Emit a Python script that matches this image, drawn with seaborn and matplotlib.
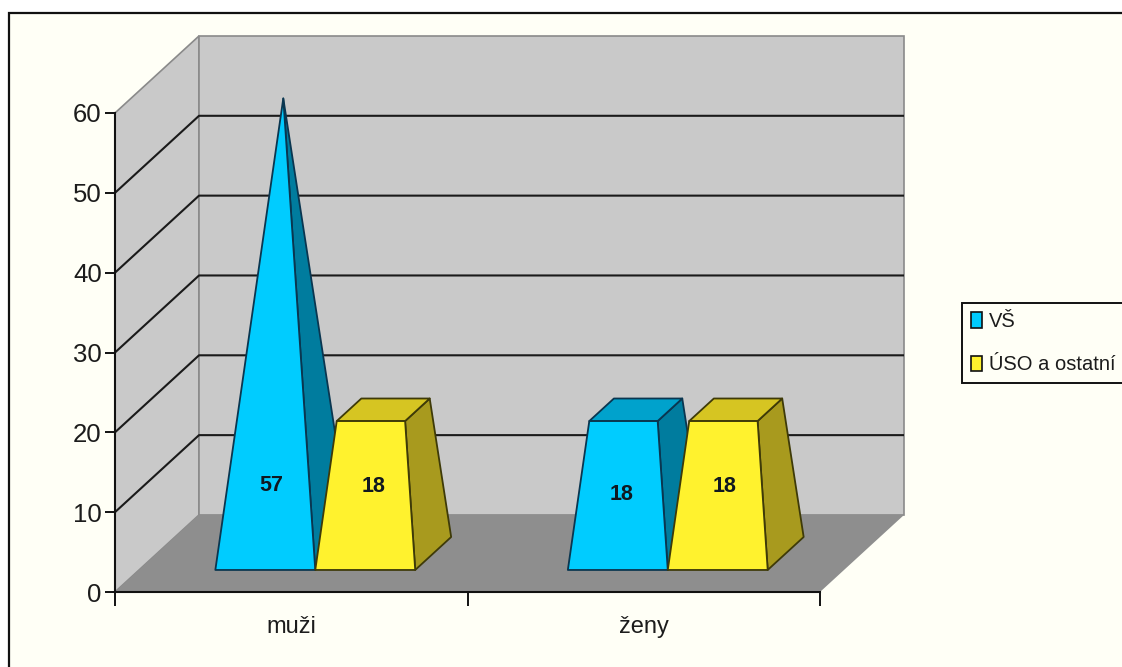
import matplotlib
matplotlib.use("Agg")
import matplotlib.pyplot as plt
from matplotlib.patches import Patch, Polygon, Rectangle
import pandas as pd
import seaborn as sns

# Values per category and education group
categories = ["muži", "ženy"]
series_names = ["VŠ", "ÚSO a ostatní"]
vs_values = [57, 18]
uso_values = [18, 18]
y_ticks = [0, 10, 20, 30, 40, 50, 60]

# Colours of the three visible faces of every solid
face_colors = {"VŠ": "#00CCFF", "ÚSO a ostatní": "#FFF22E"}
side_colors = {"VŠ": "#007C9E", "ÚSO a ostatní": "#A89A1E"}
top_colors = {"VŠ": "#00A2CC", "ÚSO a ostatní": "#D6C522"}
edge_colors = {"VŠ": "#0A3650", "ÚSO a ostatní": "#3E3A08"}
PAPER = "#FFFFF6"
WALL = "#C9C9C9"
FLOOR = "#8E8E8E"
INK = "#1C1C1C"

sns.set_theme(style="white")
plt.rcParams["font.family"] = ["Liberation Sans"]

W, H = 1122, 667
fig = plt.figure(figsize=(W / 100, H / 100), dpi=100, facecolor="white")
fig.add_artist(Rectangle((9 / W, -0.02), 1.02, 1.02 - 13 / H, transform=fig.transFigure,
                         facecolor=PAPER, edgecolor="#111111", linewidth=1.6, zorder=-5))

ax = fig.add_axes([115 / W, (H - 592) / H, 705 / W, 479 / H])
ax.set_facecolor("none")

df = pd.DataFrame({
    "pohlaví": categories * 2,
    "počet": vs_values + uso_values,
    "vzdělání": [series_names[0]] * 2 + [series_names[1]] * 2,
})
sns.barplot(data=df, x="pohlaví", y="počet", hue="vzdělání", hue_order=series_names,
            palette=face_colors, width=0.567, gap=0, legend=False, ax=ax)
bars = {name: container for name, container in zip(series_names, ax.containers)}

ax.set_xlim(-0.5, 1.5)
ax.set_ylim(0, 60)

# Oblique projection: depth 0 is the front plane, depth 1 the back wall
DEPTH_X = 84 / 352.5
DEPTH_Y = 77 / 7.98
FOOT_DEPTH = 0.214  # half of the footprint along the depth direction
peak = max(vs_values + uso_values)


def back(x, y, d=1.0):
    return x + d * DEPTH_X, y + d * DEPTH_Y


# Walls and floor
x0, x1 = ax.get_xlim()
y_top = y_ticks[-1]
ax.add_patch(Polygon([(x0, 0), back(x0, 0), back(x0, y_top), (x0, y_top)], facecolor=WALL,
                     edgecolor="#8A8A8A", linewidth=1.2, clip_on=False, zorder=0.5))
ax.add_patch(Polygon([back(x0, 0), back(x1, 0), back(x1, y_top), back(x0, y_top)], facecolor=WALL,
                     edgecolor="#8A8A8A", linewidth=1.2, clip_on=False, zorder=0.6))
ax.add_patch(Polygon([(x0, 0), (x1, 0), back(x1, 0), back(x0, 0)], facecolor=FLOOR,
                     edgecolor="none", clip_on=False, zorder=0.7))

# Gridlines fold from the side wall onto the back wall
for v in y_ticks[1:-1]:
    xs, ys = zip((x0, v), back(x0, v), back(x1, v))
    ax.plot(xs, ys, color="#1A1A1A", lw=1.5, clip_on=False, zorder=0.8, solid_capstyle="butt")


def solid_point(cx, half_w, sx, sd, v):
    """Point of a pyramid that narrows to its apex at the peak value."""
    f = 1 - v / peak
    d = 0.5 + sd * FOOT_DEPTH * f
    return back(cx + sx * half_w * f, v, d)


z = 2.0
for i in range(len(categories)):
    for name in series_names:
        bar = bars[name][i]
        bar.set_visible(False)
        cx = bar.get_x() + bar.get_width() / 2
        hw = bar.get_width() / 2
        v = bar.get_height()
        pt = lambda sx, sd, h: solid_point(cx, hw, sx, sd, h)
        edge = edge_colors[name]
        style = dict(edgecolor=edge, linewidth=1.3, joinstyle="round", clip_on=False)
        ax.add_patch(Polygon([pt(1, -1, 0), pt(1, 1, 0), pt(1, 1, v), pt(1, -1, v)],
                             facecolor=side_colors[name], zorder=z, **style))
        ax.add_patch(Polygon([pt(-1, -1, v), pt(1, -1, v), pt(1, 1, v), pt(-1, 1, v)],
                             facecolor=top_colors[name], zorder=z + 0.1, **style))
        ax.add_patch(Polygon([pt(-1, -1, 0), pt(1, -1, 0), pt(1, -1, v), pt(-1, -1, v)],
                             facecolor=face_colors[name], zorder=z + 0.2, **style))
        z += 1

# Value labels printed on the front faces
label_rows = [(0, 0, 13.4, 0.018), (0, 1, 13.2, 0.024), (1, 0, 12.2, 0.012), (1, 1, 13.2, 0.02)]
for cat, ser, label_y, nudge in label_rows:
    bar = bars[series_names[ser]][cat]
    px, _ = back(bar.get_x() + bar.get_width() / 2, 0, 0.5 - FOOT_DEPTH)
    ax.text(px + nudge, label_y, f"{bar.get_height():.0f}", ha="center", va="center",
            fontsize=15.5, fontweight="bold", color="#101820", zorder=50)

# Axes
for side in ("top", "right"):
    ax.spines[side].set_visible(False)
for side in ("left", "bottom"):
    ax.spines[side].set_color("#111111")
    ax.spines[side].set_linewidth(1.5)
    ax.spines[side].set_zorder(1)
ax.set_xlabel("")
ax.set_ylabel("")
ax.set_yticks(y_ticks)
ax.set_yticklabels([str(t) for t in y_ticks])
ax.set_xticks([-0.5, 0.5, 1.5])
ax.set_xticklabels([])
ax.set_xticks([0, 1], labels=categories, minor=True)
ax.tick_params(axis="y", left=True, length=7, width=1.4, color="#111111", pad=2.5,
               labelsize=18.5, labelcolor=INK)
ax.tick_params(axis="x", which="major", bottom=True, length=10, width=1.4, color="#111111")
ax.tick_params(axis="x", which="minor", bottom=False, length=0, pad=17.5, labelsize=17, labelcolor=INK)

handles = [Patch(facecolor=face_colors[n], edgecolor="#111111", linewidth=1.2, label=n)
           for n in series_names]
fig.legend(handles=handles, loc="upper left", bbox_to_anchor=(962 / W, 1 - 303 / H),
           bbox_transform=fig.transFigure, frameon=True, fancybox=False, framealpha=1,
           facecolor=PAPER, edgecolor="#111111", fontsize=14.5, handlelength=0.55,
           handleheight=0.8, handletextpad=0.35, labelspacing=1.2, borderpad=0.45,
           borderaxespad=0, labelcolor=INK).get_frame().set_linewidth(1.4)

fig.savefig("out.png", dpi=100)
